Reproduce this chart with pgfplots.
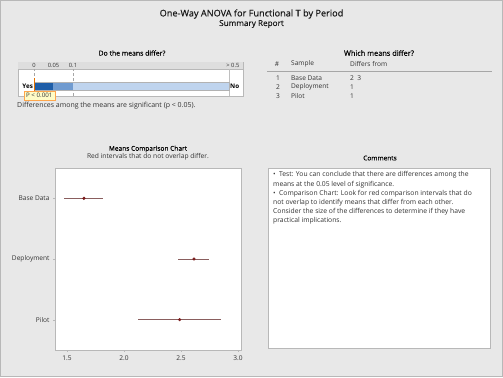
\documentclass[border=0pt]{standalone}
\usepackage{pgfplots}
\pgfplotsset{compat=1.18}
\usepackage{fontspec}
\setmainfont{Open Sans}
\definecolor{bg}{HTML}{E8E8E8}
\definecolor{hdr}{HTML}{DEDEDE}
\definecolor{frm}{HTML}{B8B8B8}
\definecolor{cA}{HTML}{1F5EA8}
\definecolor{cB}{HTML}{709BD0}
\definecolor{cC}{HTML}{BFD4EE}
\definecolor{ivl}{HTML}{8A5E5E}
\definecolor{mk}{HTML}{7A1A1A}
\definecolor{txt}{HTML}{333333}
\newcommand\fs[1]{\fontsize{#1}{#1}\selectfont}
\newcommand\semib{\addfontfeature{FakeBold=0.4}}
\newcommand\semibs{\addfontfeature{FakeBold=0.25}}
\begin{document}
\begin{tikzpicture}[x=1bp,y=1bp]
\fill[bg] (0,0) rectangle (503,377);
\draw[frm] (0.5,0.5) rectangle (502.5,376.5);
% titles
\node[text=black!90] at (251.5,377-14) {\fs{9.2}\semib One-Way ANOVA for Functional T by Period};
\node[text=black!90] at (251.5,377-24) {\fs{8.2}\semib Summary Report};
% p-value panel
\node[text=black] at (132,377-53) {\fs{6.9}\semibs Do the means differ?};
\begin{axis}[at={(18bp,281bp)}, anchor=south west, width=225bp, height=34bp,
  scale only axis, xmin=-0.041, xmax=0.536, ymin=0, ymax=34,
  xtick=\empty, ytick=\empty, axis line style={frm}, clip=false,
  axis background/.style={fill=white}]
\fill[hdr] (axis cs:-0.041,27) rectangle (axis cs:0.536,34);
\draw[frm] (axis cs:-0.041,27) -- (axis cs:0.536,27);
\draw[gray!70, densely dashed] (axis cs:0,0) -- (axis cs:0,27);
\draw[gray!70, densely dashed] (axis cs:0.1,0) -- (axis cs:0.1,27);
\draw[gray!50] (axis cs:0.5,0) -- (axis cs:0.5,27);
\addplot[fill=cC, draw=none] coordinates {(0.1,6) (0.5,6) (0.5,14) (0.1,14)} -- cycle;
\addplot[fill=cB, draw=none] coordinates {(0.05,6) (0.1,6) (0.1,14) (0.05,14)} -- cycle;
\addplot[fill=cA, draw=none] coordinates {(0,6) (0.05,6) (0.05,14) (0,14)} -- cycle;
\draw[gray!60] (axis cs:0,6) rectangle (axis cs:0.5,14);
\node[text=txt] at (axis cs:0,30.5) {\fs{5.8}0};
\node[text=txt] at (axis cs:0.05,30.5) {\fs{5.8}0.05};
\node[text=txt] at (axis cs:0.1,30.5) {\fs{5.8}0.1};
\node[text=txt] at (axis cs:0.51,30.5) {\fs{5.8}> 0.5};
\node[anchor=east, inner sep=0.5pt] at (axis cs:-0.001,10) {\fs{6.3}\bfseries Yes};
\node[anchor=west, inner sep=1pt] at (axis cs:0.5,10) {\fs{6.3}\bfseries No};
\addplot[draw=orange!90!black, line width=1pt] coordinates {(0.001,5) (0.001,18)};
\node[fill=yellow!22, draw=orange!70, inner sep=1pt, text=txt, minimum width=31bp, minimum height=9bp] at (axis cs:0.0135,0.5) {\fs{6.2}P < 0.001};
\end{axis}
\node[anchor=west, text=txt, inner sep=0pt] at (17,377-106) {\fs{7}Differences among the means are significant (p < 0.05).};
% which means differ
\node[text=black] at (379,377-53) {\fs{7.4}\semibs Which means differ?};
\begin{scope}[every node/.style={text=txt, inner sep=0pt}]
\node at (277,377-64) {\fs{6.6}\#};
\node[anchor=west] at (291,377-64) {\fs{6.6}Sample};
\node[anchor=west] at (350,377-64) {\fs{6.6}Differs from};
\node at (278,377-78) {\fs{6.6}1};
\node[anchor=west] at (291,377-78) {\fs{6.6}Base Data};
\node[anchor=west] at (350,377-78) {\fs{6.6}2\enspace 3};
\node at (278,377-87) {\fs{6.6}2};
\node[anchor=west] at (291,377-87) {\fs{6.6}Deployment};
\node[anchor=west] at (350,377-87) {\fs{6.6}1};
\node at (278,377-96) {\fs{6.6}3};
\node[anchor=west] at (291,377-96) {\fs{6.6}Pilot};
\node[anchor=west] at (350,377-96) {\fs{6.6}1};
\end{scope}
\draw[gray!70] (267,377-71) -- (492,377-71);
% means comparison chart
\node[text=black] at (148,377-149) {\fs{6.6}\semibs Means Comparison Chart};
\node[text=txt] at (148,377-157) {\fs{6.7}Red intervals that do not overlap differ.};
\begin{axis}[at={(55bp,27bp)}, anchor=south west, width=186bp, height=182bp,
  scale only axis, xmin=1.395, xmax=3.026, ymin=0.5, ymax=3.5,
  axis line style={frm}, axis background/.style={fill=white},
  xtick={1.5,2,2.5,3}, xticklabels={1.5,2.0,2.5,3.0},
  ytick={1,2,3}, yticklabels={Pilot,Deployment,Base Data},
  tick align=outside, major tick length=2bp, tick style={frm},
  xtick pos=bottom, ytick pos=left,
  ticklabel style={font=\fs{6.6}, text=txt},
  /pgf/number format/assume math mode=true]
\addplot[only marks, mark=*, mark size=1.4pt, color=mk,
  error bars/.cd, x dir=both, x explicit, error mark=none,
  error bar style={ivl, line width=0.6pt}]
  coordinates {
  (1.649,3) += (0.164,0) -= (0.172,0)
  (2.614,2) += (0.135,0) -= (0.137,0)
  (2.488,1) += (0.363,0) -= (0.368,0)
  };
\end{axis}
% comments
\node[text=black] at (380,377-158) {\fs{6.6}\semibs Comments};
\draw[frm, fill=white] (268,377-168) rectangle (490,377-348);
\begin{scope}[every node/.style={anchor=west, text=txt, inner sep=0pt}]
\node at (273,377-175) {\fs{6.8}\textbullet\enspace Test: You can conclude that there are differences among the};
\node at (273,377-184.3) {\fs{6.8}means at the 0.05 level of significance.};
\node at (273,377-193.5) {\fs{6.8}\textbullet\enspace Comparison Chart: Look for red comparison intervals that do};
\node at (273,377-202.7) {\fs{6.8}not overlap to identify means that differ from each other.};
\node at (273,377-211.9) {\fs{6.8}Consider the size of the differences to determine if they have};
\node at (273,377-221.1) {\fs{6.8}practical implications.};
\end{scope}
\end{tikzpicture}
\end{document}
